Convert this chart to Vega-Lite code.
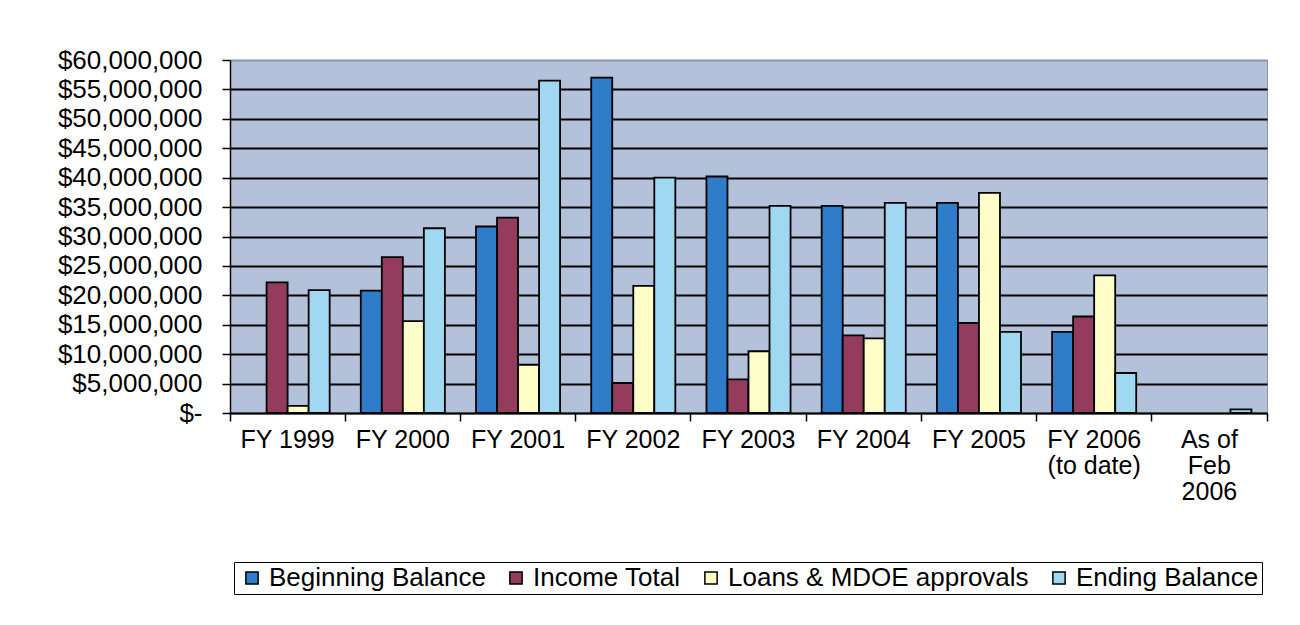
{
  "$schema": "https://vega.github.io/schema/vega-lite/v6.json",
  "width": 1037,
  "height": 353,
  "autosize": {"type": "none"},
  "padding": {"left": 230, "top": 60, "right": 33, "bottom": 212},
  "background": "white",
  "config": {
    "font": "Liberation Sans",
    "view": {"fill": "#B3C2DA", "stroke": "#8A96A8", "strokeWidth": 1}
  },
  "data": {
    "values": [
      {"period": "FY 1999", "series": "Income Total", "amount": 22200000},
      {"period": "FY 1999", "series": "Loans & MDOE approvals", "amount": 1200000},
      {"period": "FY 1999", "series": "Ending Balance", "amount": 20900000},
      {"period": "FY 2000", "series": "Beginning Balance", "amount": 20800000},
      {"period": "FY 2000", "series": "Income Total", "amount": 26500000},
      {"period": "FY 2000", "series": "Loans & MDOE approvals", "amount": 15600000},
      {"period": "FY 2000", "series": "Ending Balance", "amount": 31400000},
      {"period": "FY 2001", "series": "Beginning Balance", "amount": 31700000},
      {"period": "FY 2001", "series": "Income Total", "amount": 33200000},
      {"period": "FY 2001", "series": "Loans & MDOE approvals", "amount": 8200000},
      {"period": "FY 2001", "series": "Ending Balance", "amount": 56500000},
      {"period": "FY 2002", "series": "Beginning Balance", "amount": 57000000},
      {"period": "FY 2002", "series": "Income Total", "amount": 5100000},
      {"period": "FY 2002", "series": "Loans & MDOE approvals", "amount": 21600000},
      {"period": "FY 2002", "series": "Ending Balance", "amount": 40000000},
      {"period": "FY 2003", "series": "Beginning Balance", "amount": 40200000},
      {"period": "FY 2003", "series": "Income Total", "amount": 5700000},
      {"period": "FY 2003", "series": "Loans & MDOE approvals", "amount": 10500000},
      {"period": "FY 2003", "series": "Ending Balance", "amount": 35200000},
      {"period": "FY 2004", "series": "Beginning Balance", "amount": 35200000},
      {"period": "FY 2004", "series": "Income Total", "amount": 13200000},
      {"period": "FY 2004", "series": "Loans & MDOE approvals", "amount": 12700000},
      {"period": "FY 2004", "series": "Ending Balance", "amount": 35700000},
      {"period": "FY 2005", "series": "Beginning Balance", "amount": 35700000},
      {"period": "FY 2005", "series": "Income Total", "amount": 15300000},
      {"period": "FY 2005", "series": "Loans & MDOE approvals", "amount": 37400000},
      {"period": "FY 2005", "series": "Ending Balance", "amount": 13800000},
      {"period": "FY 2006 (to date)", "series": "Beginning Balance", "amount": 13800000},
      {"period": "FY 2006 (to date)", "series": "Income Total", "amount": 16400000},
      {"period": "FY 2006 (to date)", "series": "Loans & MDOE approvals", "amount": 23400000},
      {"period": "FY 2006 (to date)", "series": "Ending Balance", "amount": 6800000},
      {"period": "As of Feb 2006", "series": "Ending Balance", "amount": 600000}
    ]
  },
  "mark": {"type": "bar", "stroke": "black", "strokeWidth": 1.8},
  "encoding": {
    "x": {
      "field": "period",
      "type": "nominal",
      "sort": ["FY 1999", "FY 2000", "FY 2001", "FY 2002", "FY 2003", "FY 2004", "FY 2005", "FY 2006 (to date)", "As of Feb 2006"],
      "scale": {"paddingInner": 0, "paddingOuter": 0},
      "axis": {
        "title": null,
        "labelAngle": 0,
        "labelFontSize": 25,
        "labelColor": "black",
        "labelBaseline": "top",
        "labelPadding": 6,
        "labelLineHeight": 26,
        "labelLimit": 0,
        "labelExpr": "datum.value == 'FY 2006 (to date)' ? ['FY 2006', '(to date)'] : datum.value == 'As of Feb 2006' ? ['As of', 'Feb', '2006'] : datum.value",
        "bandPosition": 1,
        "tickExtra": true,
        "tickSize": 8,
        "tickWidth": 1.5,
        "tickColor": "black",
        "domainColor": "black",
        "domainWidth": 1.5,
        "grid": false
      }
    },
    "xOffset": {
      "field": "series",
      "type": "nominal",
      "sort": ["Beginning Balance", "Income Total", "Loans & MDOE approvals", "Ending Balance"],
      "scale": {"paddingInner": 0, "paddingOuter": 0.74}
    },
    "y": {
      "field": "amount",
      "type": "quantitative",
      "scale": {"domain": [0, 60000000], "nice": false},
      "axis": {
        "title": null,
        "values": [0, 5000000, 10000000, 15000000, 20000000, 25000000, 30000000, 35000000, 40000000, 45000000, 50000000, 55000000, 60000000],
        "labelExpr": "datum.value == 0 ? '$-' : '$' + format(datum.value, ',')",
        "labelFontSize": 26,
        "labelColor": "black",
        "labelPadding": 20,
        "tickSize": 8,
        "tickWidth": 1.5,
        "tickColor": "black",
        "domainColor": "black",
        "domainWidth": 1.5,
        "grid": true,
        "gridColor": {"condition": {"test": "datum.value == 60000000", "value": "#8A96A8"}, "value": "black"},
        "gridWidth": 2
      }
    },
    "fill": {
      "field": "series",
      "type": "nominal",
      "sort": ["Beginning Balance", "Income Total", "Loans & MDOE approvals", "Ending Balance"],
      "scale": {
        "domain": ["Beginning Balance", "Income Total", "Loans & MDOE approvals", "Ending Balance"],
        "range": ["#2F7CC8", "#943C5C", "#FFFDC8", "#A0D8F2"]
      },
      "legend": {
        "title": null,
        "orient": "none",
        "direction": "horizontal",
        "legendX": 4,
        "legendY": 502,
        "columns": 4,
        "columnPadding": 15,
        "padding": 3,
        "fillColor": "white",
        "strokeColor": "black",
        "symbolType": "square",
        "symbolSize": 150,
        "symbolStrokeColor": "black",
        "symbolStrokeWidth": 1.5,
        "symbolOffset": 2,
        "labelFontSize": 26,
        "labelColor": "black",
        "labelOffset": 4,
        "labelLimit": 0
      }
    }
  }
}
